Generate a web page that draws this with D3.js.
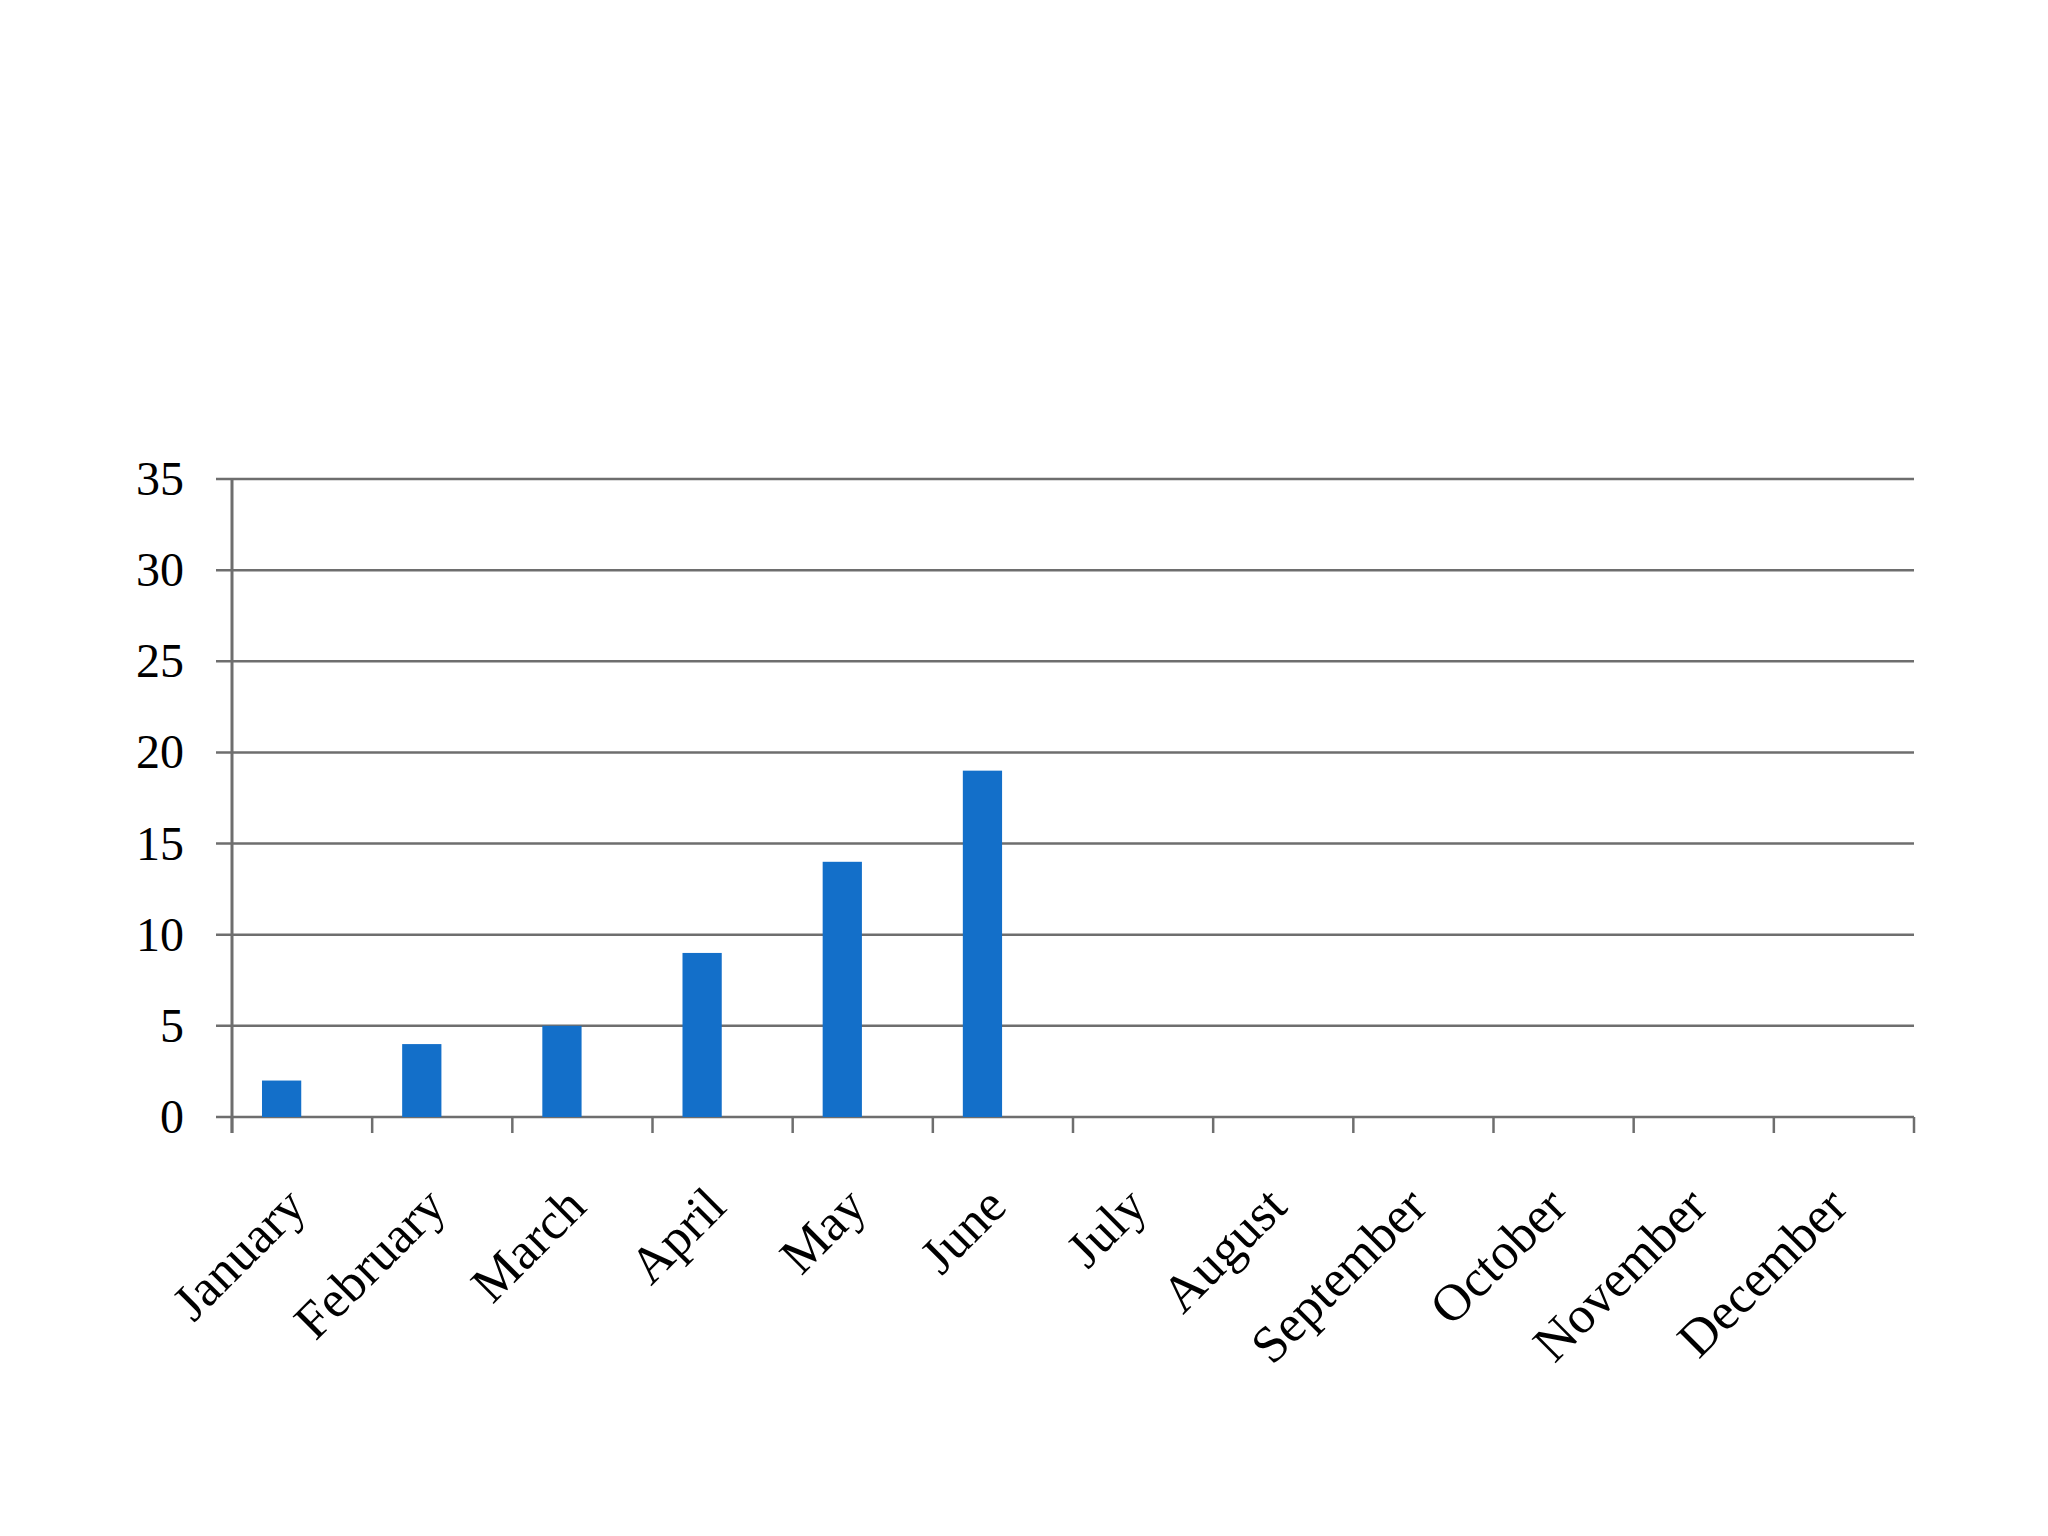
<!DOCTYPE html>
<html>
<head>
<meta charset="utf-8">
<script src="https://cdn.jsdelivr.net/npm/d3@7"></script>
<style>
  body { margin: 0; background: #fff; }
  text { font-family: "Liberation Serif", "DejaVu Serif", serif; fill: #000; }
</style>
</head>
<body>
<div id="chart"></div>
<script>
var months = ["January", "February", "March", "April", "May", "June",
  "July", "August", "September", "October", "November", "December"];
var values = [2, 4, 5, 9, 14, 19, null, null, null, null, null, null];
var yTicks = [0, 5, 10, 15, 20, 25, 30, 35];

var width = 2048, height = 1536;
var plotLeft = 232, plotRight = 1914, plotTop = 479, plotBottom = 1117;

var svg = d3.select("#chart").append("svg")
  .attr("width", width).attr("height", height);

var xScale = d3.scaleBand().domain(months).range([plotLeft, plotRight]);
var yScale = d3.scaleLinear().domain([0, 35]).range([plotBottom, plotTop]);

// gridlines (with left tick stubs)
svg.append("g").selectAll("line").data(yTicks).enter().append("line")
  .attr("x1", plotLeft - 16).attr("x2", plotRight)
  .attr("y1", function(d) { return yScale(d); })
  .attr("y2", function(d) { return yScale(d); })
  .attr("stroke", "#6e6e6e").attr("stroke-width", 2.5);

// y labels
svg.append("g").selectAll("text").data(yTicks).enter().append("text")
  .attr("x", plotLeft - 48)
  .attr("y", function(d) { return yScale(d) + 16; })
  .attr("text-anchor", "end")
  .attr("font-size", 48)
  .text(function(d) { return d; });

// y axis line
svg.append("line")
  .attr("x1", plotLeft).attr("x2", plotLeft).attr("y1", plotTop).attr("y2", plotBottom + 16)
  .attr("stroke", "#6e6e6e").attr("stroke-width", 3);

// x tick marks at band boundaries
var bounds = months.map(function(m) { return xScale(m); }).concat([plotRight]);
svg.append("g").selectAll("line").data(bounds).enter().append("line")
  .attr("x1", function(d) { return d; }).attr("x2", function(d) { return d; })
  .attr("y1", plotBottom).attr("y2", plotBottom + 16)
  .attr("stroke", "#6e6e6e").attr("stroke-width", 2.5);

// bars
var bw = xScale.bandwidth();
svg.append("g").selectAll("rect").data(months.filter(function(m, i) { return values[i] != null; }))
  .enter().append("rect")
  .attr("x", function(d) { return xScale(d) + bw * 0.214; })
  .attr("width", bw * 0.28)
  .attr("y", function(d) { return yScale(values[months.indexOf(d)]); })
  .attr("height", function(d) { return plotBottom - yScale(values[months.indexOf(d)]); })
  .attr("fill", "#136fc9");

// x labels
svg.append("g").selectAll("text").data(months).enter().append("text")
  .attr("text-anchor", "end")
  .attr("font-size", 52)
  .attr("transform", function(d) {
    return "translate(" + (xScale(d) + bw / 2 + 6) + "," + (plotBottom + 92) + ") rotate(-45)";
  })
  .text(function(d) { return d; });
</script>
</body>
</html>
